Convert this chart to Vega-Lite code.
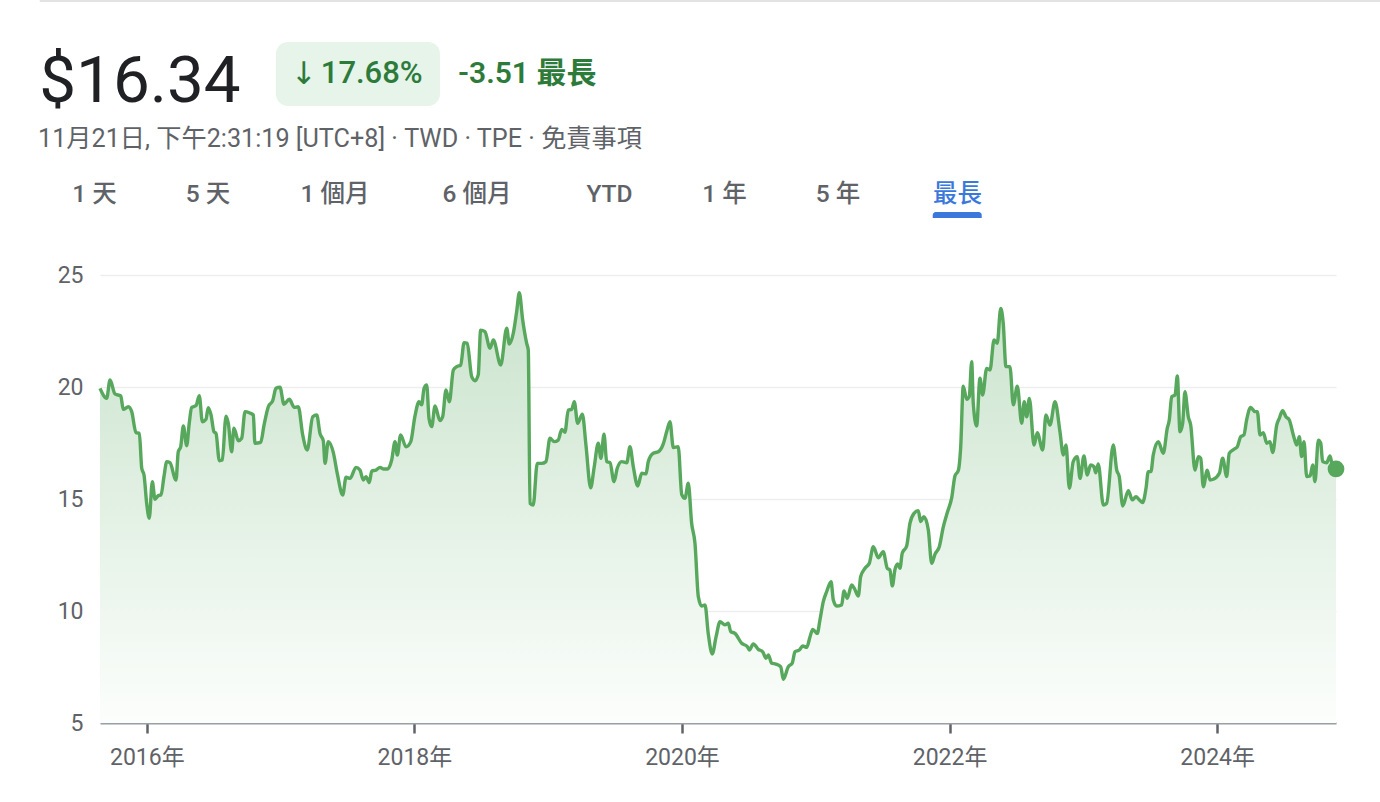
{
  "$schema": "https://vega.github.io/schema/vega-lite/v6.json",
  "autosize": {"type": "none"},
  "width": 1236,
  "height": 448,
  "padding": {"left": 100, "top": 275, "right": 44, "bottom": 79},
  "background": "#ffffff",
  "datasets": {
    "main": [
      {"year": 2015.650, "price": 19.94}, {"year": 2015.700, "price": 19.5}, {"year": 2015.725, "price": 20.31},
      {"year": 2015.762, "price": 19.69}, {"year": 2015.805, "price": 19.6}, {"year": 2015.824, "price": 19.0},
      {"year": 2015.862, "price": 19.12}, {"year": 2015.887, "price": 18.9}, {"year": 2015.919, "price": 17.96},
      {"year": 2015.944, "price": 17.93}, {"year": 2015.962, "price": 16.37}, {"year": 2015.979, "price": 16.07},
      {"year": 2015.999, "price": 14.8}, {"year": 2016.018, "price": 14.14}, {"year": 2016.041, "price": 15.77},
      {"year": 2016.061, "price": 14.99}, {"year": 2016.086, "price": 15.15}, {"year": 2016.106, "price": 15.18},
      {"year": 2016.128, "price": 16.0}, {"year": 2016.149, "price": 16.67}, {"year": 2016.173, "price": 16.62},
      {"year": 2016.218, "price": 15.85}, {"year": 2016.235, "price": 17.11}, {"year": 2016.253, "price": 17.33},
      {"year": 2016.273, "price": 18.26}, {"year": 2016.298, "price": 17.38}, {"year": 2016.317, "price": 18.38},
      {"year": 2016.335, "price": 19.08}, {"year": 2016.368, "price": 19.17}, {"year": 2016.392, "price": 19.61},
      {"year": 2016.415, "price": 18.45}, {"year": 2016.442, "price": 18.56}, {"year": 2016.459, "price": 19.08},
      {"year": 2016.480, "price": 18.75}, {"year": 2016.502, "price": 18.0}, {"year": 2016.517, "price": 17.93},
      {"year": 2016.542, "price": 16.71}, {"year": 2016.564, "price": 16.74}, {"year": 2016.592, "price": 18.7},
      {"year": 2016.609, "price": 18.38}, {"year": 2016.634, "price": 17.11}, {"year": 2016.651, "price": 18.16},
      {"year": 2016.684, "price": 17.6}, {"year": 2016.709, "price": 17.71}, {"year": 2016.734, "price": 18.9},
      {"year": 2016.766, "price": 18.85}, {"year": 2016.796, "price": 18.75}, {"year": 2016.808, "price": 17.49},
      {"year": 2016.851, "price": 17.53}, {"year": 2016.876, "price": 18.3}, {"year": 2016.908, "price": 19.12},
      {"year": 2016.941, "price": 19.39}, {"year": 2016.965, "price": 19.94}, {"year": 2016.995, "price": 19.99},
      {"year": 2017.025, "price": 19.23}, {"year": 2017.065, "price": 19.45}, {"year": 2017.102, "price": 19.09},
      {"year": 2017.132, "price": 19.12}, {"year": 2017.165, "price": 17.86}, {"year": 2017.199, "price": 17.19},
      {"year": 2017.240, "price": 18.67}, {"year": 2017.270, "price": 18.75}, {"year": 2017.294, "price": 17.93},
      {"year": 2017.319, "price": 17.6}, {"year": 2017.332, "price": 16.59}, {"year": 2017.356, "price": 17.56},
      {"year": 2017.394, "price": 17.07}, {"year": 2017.424, "price": 16.12}, {"year": 2017.464, "price": 15.18},
      {"year": 2017.489, "price": 15.97}, {"year": 2017.519, "price": 15.92}, {"year": 2017.563, "price": 16.41},
      {"year": 2017.593, "price": 16.29}, {"year": 2017.618, "price": 15.85}, {"year": 2017.638, "price": 16.0},
      {"year": 2017.663, "price": 15.73}, {"year": 2017.681, "price": 16.25}, {"year": 2017.713, "price": 16.29},
      {"year": 2017.743, "price": 16.41}, {"year": 2017.767, "price": 16.34}, {"year": 2017.800, "price": 16.34},
      {"year": 2017.830, "price": 16.74}, {"year": 2017.855, "price": 17.56}, {"year": 2017.872, "price": 16.96},
      {"year": 2017.897, "price": 17.86}, {"year": 2017.937, "price": 17.33}, {"year": 2017.972, "price": 17.55},
      {"year": 2018.004, "price": 18.7}, {"year": 2018.034, "price": 19.34}, {"year": 2018.054, "price": 19.2},
      {"year": 2018.072, "price": 19.94}, {"year": 2018.092, "price": 20.09}, {"year": 2018.109, "price": 18.6},
      {"year": 2018.129, "price": 18.23}, {"year": 2018.154, "price": 19.15}, {"year": 2018.191, "price": 18.5},
      {"year": 2018.211, "price": 18.67}, {"year": 2018.236, "price": 19.87}, {"year": 2018.261, "price": 19.34},
      {"year": 2018.291, "price": 20.76}, {"year": 2018.316, "price": 20.91}, {"year": 2018.346, "price": 20.98},
      {"year": 2018.371, "price": 21.98}, {"year": 2018.395, "price": 21.95}, {"year": 2018.428, "price": 20.46},
      {"year": 2018.453, "price": 20.28}, {"year": 2018.477, "price": 20.54}, {"year": 2018.495, "price": 22.54},
      {"year": 2018.527, "price": 22.47}, {"year": 2018.565, "price": 21.73}, {"year": 2018.590, "price": 22.1},
      {"year": 2018.645, "price": 20.98}, {"year": 2018.690, "price": 22.62}, {"year": 2018.709, "price": 21.92},
      {"year": 2018.739, "price": 22.4}, {"year": 2018.764, "price": 23.36}, {"year": 2018.784, "price": 24.21},
      {"year": 2018.809, "price": 23.0}, {"year": 2018.839, "price": 21.95}, {"year": 2018.851, "price": 21.65},
      {"year": 2018.864, "price": 14.81}, {"year": 2018.888, "price": 14.73}, {"year": 2018.918, "price": 16.59},
      {"year": 2018.951, "price": 16.59}, {"year": 2018.983, "price": 16.67}, {"year": 2019.013, "price": 17.71},
      {"year": 2019.045, "price": 17.56}, {"year": 2019.075, "price": 17.63}, {"year": 2019.101, "price": 18.11},
      {"year": 2019.125, "price": 17.98}, {"year": 2019.150, "price": 18.97}, {"year": 2019.175, "price": 19.0},
      {"year": 2019.195, "price": 19.34}, {"year": 2019.220, "price": 18.38}, {"year": 2019.255, "price": 18.79},
      {"year": 2019.282, "price": 17.41}, {"year": 2019.317, "price": 15.5}, {"year": 2019.344, "price": 16.44},
      {"year": 2019.374, "price": 17.49}, {"year": 2019.394, "price": 16.82}, {"year": 2019.417, "price": 17.89},
      {"year": 2019.437, "price": 16.67}, {"year": 2019.462, "price": 16.62}, {"year": 2019.492, "price": 15.77},
      {"year": 2019.516, "price": 16.37}, {"year": 2019.549, "price": 16.67}, {"year": 2019.587, "price": 16.62},
      {"year": 2019.611, "price": 17.33}, {"year": 2019.636, "price": 16.44}, {"year": 2019.669, "price": 15.58},
      {"year": 2019.699, "price": 16.15}, {"year": 2019.731, "price": 16.12}, {"year": 2019.748, "price": 16.67},
      {"year": 2019.785, "price": 17.04}, {"year": 2019.823, "price": 17.11}, {"year": 2019.860, "price": 17.46},
      {"year": 2019.885, "price": 18.0}, {"year": 2019.910, "price": 18.45}, {"year": 2019.935, "price": 17.3},
      {"year": 2019.972, "price": 17.33}, {"year": 2019.998, "price": 15.2}, {"year": 2020.022, "price": 15.03},
      {"year": 2020.047, "price": 15.7}, {"year": 2020.072, "price": 13.92}, {"year": 2020.097, "price": 13.02},
      {"year": 2020.122, "price": 10.64}, {"year": 2020.147, "price": 10.22}, {"year": 2020.172, "price": 10.27},
      {"year": 2020.196, "price": 9.0}, {"year": 2020.226, "price": 8.08}, {"year": 2020.254, "price": 8.83},
      {"year": 2020.284, "price": 9.52}, {"year": 2020.321, "price": 9.38}, {"year": 2020.346, "price": 9.45},
      {"year": 2020.364, "price": 9.08}, {"year": 2020.396, "price": 9.0}, {"year": 2020.446, "price": 8.56},
      {"year": 2020.488, "price": 8.41}, {"year": 2020.503, "price": 8.26}, {"year": 2020.533, "price": 8.53},
      {"year": 2020.570, "price": 8.29}, {"year": 2020.603, "price": 8.18}, {"year": 2020.628, "price": 7.89},
      {"year": 2020.645, "price": 8.04}, {"year": 2020.670, "price": 7.67}, {"year": 2020.702, "price": 7.63},
      {"year": 2020.738, "price": 7.51}, {"year": 2020.757, "price": 6.95}, {"year": 2020.794, "price": 7.51},
      {"year": 2020.824, "price": 7.67}, {"year": 2020.844, "price": 8.18}, {"year": 2020.877, "price": 8.26},
      {"year": 2020.902, "price": 8.44}, {"year": 2020.932, "price": 8.38}, {"year": 2020.957, "price": 8.85},
      {"year": 2020.977, "price": 9.18}, {"year": 2021.011, "price": 9.0}, {"year": 2021.031, "price": 9.6},
      {"year": 2021.056, "price": 10.42}, {"year": 2021.081, "price": 10.86}, {"year": 2021.114, "price": 11.31},
      {"year": 2021.131, "price": 10.49}, {"year": 2021.156, "price": 10.22}, {"year": 2021.193, "price": 10.27},
      {"year": 2021.211, "price": 10.89}, {"year": 2021.235, "price": 10.57}, {"year": 2021.268, "price": 11.16},
      {"year": 2021.288, "price": 11.01}, {"year": 2021.318, "price": 10.67}, {"year": 2021.335, "price": 11.53},
      {"year": 2021.368, "price": 11.91}, {"year": 2021.400, "price": 12.13}, {"year": 2021.430, "price": 12.87},
      {"year": 2021.467, "price": 12.38}, {"year": 2021.504, "price": 12.65}, {"year": 2021.534, "price": 11.91},
      {"year": 2021.554, "price": 11.83}, {"year": 2021.572, "price": 11.12}, {"year": 2021.592, "price": 11.86},
      {"year": 2021.612, "price": 12.1}, {"year": 2021.629, "price": 11.91}, {"year": 2021.646, "price": 12.58},
      {"year": 2021.679, "price": 12.9}, {"year": 2021.704, "price": 13.92}, {"year": 2021.734, "price": 14.36},
      {"year": 2021.766, "price": 14.48}, {"year": 2021.784, "price": 13.99}, {"year": 2021.808, "price": 14.21},
      {"year": 2021.841, "price": 13.62}, {"year": 2021.866, "price": 12.13}, {"year": 2021.891, "price": 12.54},
      {"year": 2021.923, "price": 12.87}, {"year": 2021.953, "price": 13.76}, {"year": 2021.983, "price": 14.4},
      {"year": 2022.016, "price": 15.06}, {"year": 2022.040, "price": 16.03}, {"year": 2022.065, "price": 16.27},
      {"year": 2022.083, "price": 17.33}, {"year": 2022.102, "price": 20.04}, {"year": 2022.128, "price": 19.45},
      {"year": 2022.147, "price": 19.57}, {"year": 2022.165, "price": 21.13}, {"year": 2022.177, "price": 19.27},
      {"year": 2022.202, "price": 18.26}, {"year": 2022.227, "price": 20.39}, {"year": 2022.247, "price": 19.64},
      {"year": 2022.277, "price": 20.83}, {"year": 2022.302, "price": 20.76}, {"year": 2022.332, "price": 22.1},
      {"year": 2022.356, "price": 21.95}, {"year": 2022.382, "price": 23.51}, {"year": 2022.401, "price": 22.84},
      {"year": 2022.421, "price": 20.91}, {"year": 2022.451, "price": 20.91}, {"year": 2022.476, "price": 19.2},
      {"year": 2022.506, "price": 20.04}, {"year": 2022.539, "price": 18.38}, {"year": 2022.558, "price": 19.34},
      {"year": 2022.576, "price": 18.67}, {"year": 2022.596, "price": 19.49}, {"year": 2022.631, "price": 17.41},
      {"year": 2022.655, "price": 17.96}, {"year": 2022.696, "price": 17.19}, {"year": 2022.720, "price": 18.75},
      {"year": 2022.750, "price": 18.3}, {"year": 2022.788, "price": 19.34}, {"year": 2022.825, "price": 18.0},
      {"year": 2022.850, "price": 16.96}, {"year": 2022.870, "price": 17.41}, {"year": 2022.895, "price": 15.48},
      {"year": 2022.924, "price": 16.67}, {"year": 2022.954, "price": 16.89}, {"year": 2022.975, "price": 15.92},
      {"year": 2023.004, "price": 16.92}, {"year": 2023.029, "price": 16.07}, {"year": 2023.054, "price": 16.52},
      {"year": 2023.079, "price": 16.44}, {"year": 2023.092, "price": 16.17}, {"year": 2023.111, "price": 16.56},
      {"year": 2023.149, "price": 14.73}, {"year": 2023.174, "price": 14.81}, {"year": 2023.223, "price": 17.41},
      {"year": 2023.249, "price": 16.29}, {"year": 2023.268, "price": 16.0}, {"year": 2023.294, "price": 14.69},
      {"year": 2023.336, "price": 15.37}, {"year": 2023.365, "price": 14.96}, {"year": 2023.393, "price": 15.1},
      {"year": 2023.418, "price": 14.96}, {"year": 2023.443, "price": 14.84}, {"year": 2023.468, "price": 15.48},
      {"year": 2023.485, "price": 16.22}, {"year": 2023.505, "price": 16.22}, {"year": 2023.522, "price": 16.96},
      {"year": 2023.560, "price": 17.56}, {"year": 2023.597, "price": 17.04}, {"year": 2023.627, "price": 18.16},
      {"year": 2023.642, "price": 18.53}, {"year": 2023.660, "price": 19.57}, {"year": 2023.685, "price": 19.64},
      {"year": 2023.702, "price": 20.49}, {"year": 2023.722, "price": 18.0}, {"year": 2023.742, "price": 18.38},
      {"year": 2023.759, "price": 19.79}, {"year": 2023.784, "price": 18.67}, {"year": 2023.802, "price": 18.3},
      {"year": 2023.834, "price": 16.29}, {"year": 2023.859, "price": 16.89}, {"year": 2023.877, "price": 16.82},
      {"year": 2023.896, "price": 15.55}, {"year": 2023.926, "price": 16.29}, {"year": 2023.946, "price": 15.85},
      {"year": 2023.971, "price": 15.88}, {"year": 2024.016, "price": 16.15}, {"year": 2024.041, "price": 16.82},
      {"year": 2024.071, "price": 16.0}, {"year": 2024.090, "price": 17.04}, {"year": 2024.126, "price": 17.22},
      {"year": 2024.150, "price": 17.33}, {"year": 2024.176, "price": 17.78}, {"year": 2024.200, "price": 17.86},
      {"year": 2024.220, "price": 18.53}, {"year": 2024.250, "price": 19.09}, {"year": 2024.282, "price": 18.9},
      {"year": 2024.300, "price": 18.9}, {"year": 2024.320, "price": 17.86}, {"year": 2024.345, "price": 17.96},
      {"year": 2024.370, "price": 17.49}, {"year": 2024.395, "price": 17.56}, {"year": 2024.415, "price": 17.07},
      {"year": 2024.445, "price": 18.3}, {"year": 2024.464, "price": 18.6}, {"year": 2024.489, "price": 18.94},
      {"year": 2024.514, "price": 18.67}, {"year": 2024.539, "price": 18.53}, {"year": 2024.569, "price": 17.86},
      {"year": 2024.594, "price": 17.41}, {"year": 2024.614, "price": 17.78}, {"year": 2024.631, "price": 16.89},
      {"year": 2024.649, "price": 17.56}, {"year": 2024.669, "price": 16.0}, {"year": 2024.694, "price": 16.03},
      {"year": 2024.714, "price": 16.52}, {"year": 2024.731, "price": 15.77}, {"year": 2024.756, "price": 17.63},
      {"year": 2024.774, "price": 17.49}, {"year": 2024.788, "price": 16.67}, {"year": 2024.818, "price": 16.62},
      {"year": 2024.843, "price": 16.92}, {"year": 2024.856, "price": 16.62}, {"year": 2024.888, "price": 16.34}
    ],
    "last": [{"year": 2024.888, "price": 16.34}],
    "one": [{}]
  },
  "layer": [
    {
      "data": {"name": "main"},
      "mark": {
        "type": "area",
        "interpolate": "monotone",
        "color": {
          "gradient": "linear",
          "x1": 0, "y1": 1, "x2": 0, "y2": 0,
          "stops": [
            {"offset": 0, "color": "#fcfefc"},
            {"offset": 1, "color": "#c9e3cc"}
          ]
        }
      },
      "encoding": {
        "x": {
          "field": "year",
          "type": "quantitative",
          "scale": {"domain": [2015.65, 2024.888], "nice": false, "zero": false},
          "axis": {
            "title": null,
            "values": [2016, 2018, 2020, 2022, 2024],
            "labelExpr": "datum.value + '年'",
            "grid": false,
            "domainColor": "#9aa0a6",
            "domainWidth": 2,
            "tickColor": "#5f6368",
            "tickWidth": 2.5,
            "tickSize": 10,
            "labelFont": "Roboto, 'Noto Sans CJK TC', sans-serif",
            "labelFontSize": 23,
            "labelColor": "#5f6368",
            "labelPadding": 13
          }
        },
        "y": {
          "field": "price",
          "type": "quantitative",
          "scale": {"domain": [5, 25], "nice": false, "zero": false},
          "axis": {
            "title": null,
            "values": [5, 10, 15, 20, 25],
            "grid": true,
            "gridColor": "#ededed",
            "gridWidth": 1.5,
            "domain": false,
            "ticks": false,
            "labelFont": "Roboto, sans-serif",
            "labelFontSize": 23,
            "labelColor": "#5f6368",
            "labelPadding": 17
          }
        },
        "y2": {"datum": 5}
      }
    },
    {
      "data": {"name": "main"},
      "mark": {"type": "line", "interpolate": "monotone", "color": "#57a85c", "strokeWidth": 3.4, "strokeJoin": "round"},
      "encoding": {
        "x": {"field": "year", "type": "quantitative"},
        "y": {"field": "price", "type": "quantitative"}
      }
    },
    {
      "data": {"name": "last"},
      "mark": {"type": "circle", "color": "#57a85c", "opacity": 1, "size": 280},
      "encoding": {
        "x": {"field": "year", "type": "quantitative"},
        "y": {"field": "price", "type": "quantitative"}
      }
    },
    {
      "data": {"name": "one"},
      "mark": {"type": "rule", "color": "#e3e3e3", "strokeWidth": 2},
      "encoding": {
        "x": {"datum": 2015.2},
        "x2": {"datum": 2025.22},
        "y": {"datum": 37.23}
      }
    },
    {
      "data": {"name": "one"},
      "mark": {"type": "text", "text": "$16.34", "align": "left", "baseline": "alphabetic", "font": "Roboto, sans-serif", "fontSize": 65.5, "fontWeight": 400, "color": "#202124"},
      "encoding": {"x": {"datum": 2015.196}, "y": {"datum": 32.723}}
    },
    {
      "data": {"name": "one"},
      "mark": {"type": "text", "text": "11月21日, 下午2:31:19 [UTC+8] · TWD · TPE · 免責事項", "align": "left", "baseline": "alphabetic", "font": "Roboto, 'Noto Sans CJK TC', sans-serif", "fontSize": 25.2, "fontWeight": 400, "color": "#5f6368"},
      "encoding": {"x": {"datum": 2015.187}, "y": {"datum": 30.714}}
    },
    {
      "data": {"name": "one"},
      "mark": {"type": "rect", "color": "#e6f4ea", "cornerRadius": 12},
      "encoding": {
        "x": {"datum": 2016.965},
        "x2": {"datum": 2018.191},
        "y": {"datum": 35.4},
        "y2": {"datum": 32.545}
      }
    },
    {
      "data": {"name": "one"},
      "mark": {"type": "text", "text": "↓", "align": "center", "baseline": "alphabetic", "font": "DejaVu Sans, sans-serif", "fontSize": 31, "fontWeight": 400, "color": "#2d7b3a"},
      "encoding": {"x": {"datum": 2017.175}, "y": {"datum": 33.52}}
    },
    {
      "data": {"name": "one"},
      "mark": {"type": "text", "text": "17.68%", "align": "left", "baseline": "alphabetic", "font": "Roboto, sans-serif", "fontSize": 31, "fontWeight": 500, "color": "#2d7b3a"},
      "encoding": {"x": {"datum": 2017.30}, "y": {"datum": 33.558}}
    },
    {
      "data": {"name": "one"},
      "mark": {"type": "text", "text": "-3.51 最長", "align": "left", "baseline": "alphabetic", "font": "Roboto, 'Noto Sans CJK TC', sans-serif", "fontSize": 30, "fontWeight": 600, "color": "#2d7b3a"},
      "encoding": {"x": {"datum": 2018.326}, "y": {"datum": 33.558}}
    },
    {
      "data": {"name": "one"},
      "mark": {"type": "text", "text": "1 天", "align": "center", "baseline": "alphabetic", "font": "Roboto, 'Noto Sans CJK TC', sans-serif", "fontSize": 24.5, "fontWeight": 500, "color": "#5f6368"},
      "encoding": {"x": {"datum": 2015.609}, "y": {"datum": 28.259}}
    },
    {
      "data": {"name": "one"},
      "mark": {"type": "text", "text": "5 天", "align": "center", "baseline": "alphabetic", "font": "Roboto, 'Noto Sans CJK TC', sans-serif", "fontSize": 24.5, "fontWeight": 500, "color": "#5f6368"},
      "encoding": {"x": {"datum": 2016.457}, "y": {"datum": 28.259}}
    },
    {
      "data": {"name": "one"},
      "mark": {"type": "text", "text": "1 個月", "align": "center", "baseline": "alphabetic", "font": "Roboto, 'Noto Sans CJK TC', sans-serif", "fontSize": 24.5, "fontWeight": 500, "color": "#5f6368"},
      "encoding": {"x": {"datum": 2017.406}, "y": {"datum": 28.259}}
    },
    {
      "data": {"name": "one"},
      "mark": {"type": "text", "text": "6 個月", "align": "center", "baseline": "alphabetic", "font": "Roboto, 'Noto Sans CJK TC', sans-serif", "fontSize": 24.5, "fontWeight": 500, "color": "#5f6368"},
      "encoding": {"x": {"datum": 2018.468}, "y": {"datum": 28.259}}
    },
    {
      "data": {"name": "one"},
      "mark": {"type": "text", "text": "YTD", "align": "center", "baseline": "alphabetic", "font": "Roboto, 'Noto Sans CJK TC', sans-serif", "fontSize": 24.5, "fontWeight": 500, "color": "#5f6368"},
      "encoding": {"x": {"datum": 2019.458}, "y": {"datum": 28.259}}
    },
    {
      "data": {"name": "one"},
      "mark": {"type": "text", "text": "1 年", "align": "center", "baseline": "alphabetic", "font": "Roboto, 'Noto Sans CJK TC', sans-serif", "fontSize": 24.5, "fontWeight": 500, "color": "#5f6368"},
      "encoding": {"x": {"datum": 2020.318}, "y": {"datum": 28.259}}
    },
    {
      "data": {"name": "one"},
      "mark": {"type": "text", "text": "5 年", "align": "center", "baseline": "alphabetic", "font": "Roboto, 'Noto Sans CJK TC', sans-serif", "fontSize": 24.5, "fontWeight": 500, "color": "#5f6368"},
      "encoding": {"x": {"datum": 2021.166}, "y": {"datum": 28.259}}
    },
    {
      "data": {"name": "one"},
      "mark": {"type": "text", "text": "最長", "align": "center", "baseline": "alphabetic", "font": "Roboto, 'Noto Sans CJK TC', sans-serif", "fontSize": 24.5, "fontWeight": 500, "color": "#3a78dc"},
      "encoding": {"x": {"datum": 2022.059}, "y": {"datum": 28.259}}
    },
    {
      "data": {"name": "one"},
      "mark": {"type": "rect", "color": "#3a78dc", "cornerRadiusTopLeft": 3, "cornerRadiusTopRight": 3},
      "encoding": {
        "x": {"datum": 2021.874},
        "x2": {"datum": 2022.24},
        "y": {"datum": 27.8125},
        "y2": {"datum": 27.545}
      }
    }
  ],
  "config": {
    "view": {"stroke": null},
    "font": "Roboto, 'Noto Sans CJK TC', sans-serif"
  }
}
